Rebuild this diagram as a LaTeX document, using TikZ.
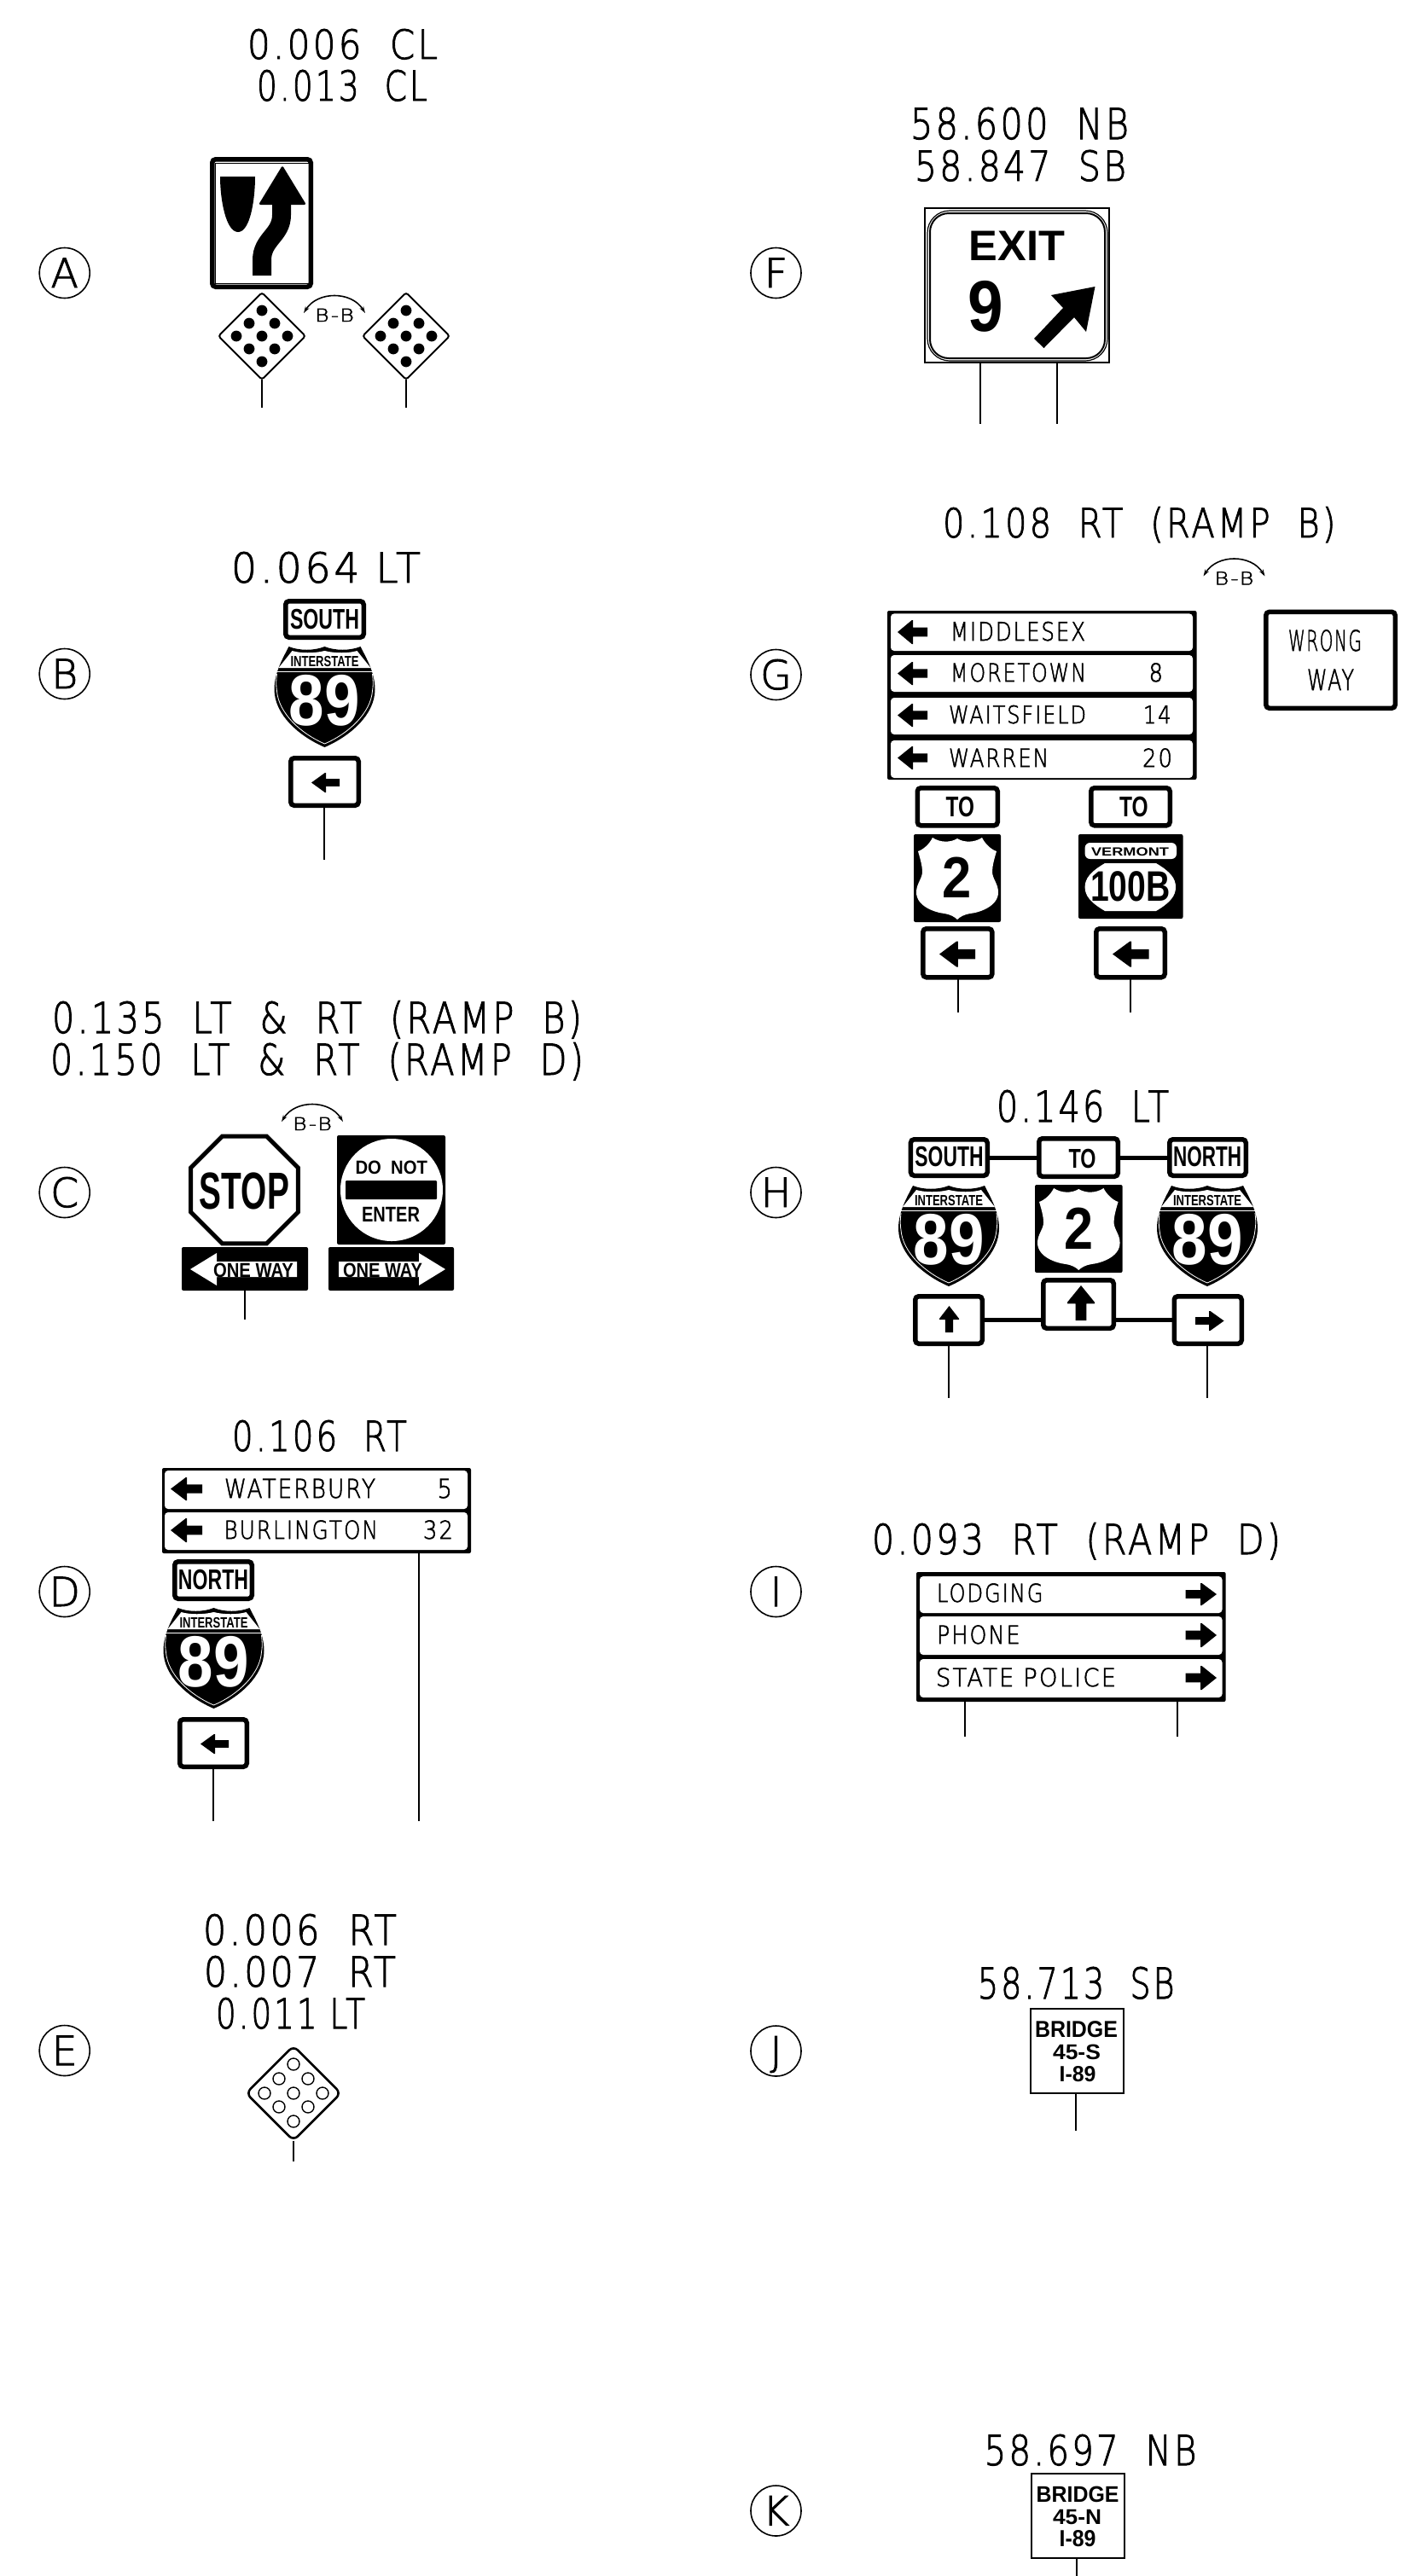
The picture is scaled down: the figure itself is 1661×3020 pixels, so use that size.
\documentclass[tikz,border=0pt]{standalone}
\usepackage{fontspec}
\usepackage{graphicx}
\usetikzlibrary{shapes.geometric,arrows.meta,calc}
\newfontfamily\cad[LetterSpace=8,FakeBold=2]{DejaVu Sans ExtraLight}
\newfontfamily\bfo{Liberation Sans Bold}
\tikzset{
  txt/.style={inner sep=0pt,outer sep=0pt,anchor=center},
  post/.style={line width=1pt,black},
  marker/.style={circle,draw,line width=.8pt,minimum size=29.5pt,inner sep=0pt,outer sep=0pt},
  solid box/.style={fill=black,rounded corners=1pt},
  white panel/.style={fill=white,rounded corners=2pt},
  thin box/.style={draw,line width=1pt},
  sign outline/.style={draw,fill=white,line width=2.75pt,rounded corners=2pt},
  tie/.style={line width=2.5pt},
  bbarc/.style={line width=.8pt,{Stealth[length=4pt,width=2.5pt]}-{Stealth[length=4pt,width=2.5pt]}},
  pattern diamond/.style={diamond,draw,line width=1.3pt,inner sep=0pt,outer sep=0pt,aspect=1,rounded corners=1.5pt}
}
% text fitted to its ink box in pixels
\newcommand\tlab[6]{%
  \pgfmathsetmacro\mw{(#4-#2)*.5}\pgfmathsetmacro\mh{(#5-#3)*.5}%
  \pgfmathsetmacro\mx{(#2+#4)/2}\pgfmathsetmacro\my{(#3+#5)/2}%
  \node[txt] (#1) at (\mx,\my) {\resizebox{\mw pt}{\mh pt}{\raisebox{0pt}[7.2pt][0pt]{#6}}};}
\newcommand\rectn[6][]{%
  \pgfmathsetmacro\mw{(#5-#3)*.5}\pgfmathsetmacro\mh{(#6-#4)*.5}%
  \pgfmathsetmacro\mx{(#3+#5)/2}\pgfmathsetmacro\my{(#4+#6)/2}%
  \node[rectangle,inner sep=0pt,outer sep=0pt,minimum width=\mw pt,minimum height=\mh pt,#1] (#2) at (\mx,\my) {};}
\newcommand\signb[5]{%
  \pgfmathsetmacro\nl{#2+2.75}\pgfmathsetmacro\nt{#3+2.75}\pgfmathsetmacro\nr{#4-2.75}\pgfmathsetmacro\nb{#5-2.75}%
  \rectn[sign outline]{#1}{\nl}{\nt}{\nr}{\nb}}
\newcommand\postl[3]{\coordinate (#1-foot) at (#2,#3); \draw[post] (#1.south -| #1-foot) -- (#1-foot);}
\newcommand\mk[3]{\node[marker] (m#1) at (#2,#3) {\resizebox{!}{17pt}{\raisebox{0pt}[7.2pt][0pt]{\cad #1}}};}
% left-pointing glyph arrow, dir = 1 left, -1 right
\newcommand\harrow[5]{%
  \pgfmathsetmacro\mw{(#3-#2)*#1}\pgfmathsetmacro\mh{#5-#4}%
  \pgfmathsetmacro\mx{(#2+#3)/2}\pgfmathsetmacro\my{(#4+#5)/2}%
  \begin{scope}[shift={(\mx,\my)},xscale=\mw,yscale=\mh]
  \fill (-.5,0) -- (-.02,-.5) -- (.02,-.5) -- (.02,-.19) -- (.5,-.19) -- (.5,.19) -- (.02,.19) -- (.02,.5) -- (-.02,.5) -- cycle;
  \end{scope}}
\newcommand\uarrow[4]{%
  \pgfmathsetmacro\mw{#2-#1}\pgfmathsetmacro\mh{#4-#3}%
  \pgfmathsetmacro\mx{(#1+#2)/2}\pgfmathsetmacro\my{(#3+#4)/2}%
  \begin{scope}[shift={(\mx,\my)},xscale=\mw,yscale=\mh]
  \fill (0,-.5) -- (.5,-.02) -- (.5,.02) -- (.2,.02) -- (.2,.5) -- (-.2,.5) -- (-.2,.02) -- (-.5,.02) -- (-.5,-.02) -- cycle;
  \end{scope}}
% interstate shield: prefix, centre x, top y
\newcommand\ishield[3]{%
  \begin{scope}[shift={(#2,#3)}]
  \fill (-42,0) .. controls (-30,5) and (-12,5) .. (0,0) .. controls (12,5) and (30,5) .. (42,0)
     .. controls (48,12) and (59,30) .. (59,50) .. controls (59,80) and (30,105) .. (0,118)
     .. controls (-30,105) and (-59,80) .. (-59,50) .. controls (-59,30) and (-48,12) .. (-42,0) -- cycle;
  \fill[white] (-38,5) .. controls (-28,8) and (-12,8) .. (0,5) .. controls (12,8) and (28,8) .. (38,5) -- (54,25) -- (-54,25) -- cycle;
  \draw[white,line width=.4pt] (-56,29) -- (56,29);
  \draw[white,line width=.4pt] (56,32) .. controls (57,42) and (57,46) .. (56,52) .. controls (54,78) and (28,102) .. (0,114)
     .. controls (-28,102) and (-54,78) .. (-56,52) .. controls (-57,46) and (-57,42) .. (-56,32);
  \tlab{#1-int}{-40}{11}{40}{23.5}{\bfo INTERSTATE}
  \tlab{#1-num}{-41.5}{31}{41.5}{92}{\color{white}\bfo 89}
  \end{scope}}
% US route shield, white, on its plate: plate name, l,t,r,b
\newcommand\usplate[5]{%
  \rectn[solid box]{#1}{#2}{#3}{#4}{#5}
  \pgfmathsetmacro\mw{(#4-#2)/102}\pgfmathsetmacro\mh{(#5-#3)/103}\pgfmathsetmacro\mx{(#2+#4)/2}%
  \begin{scope}[shift={(\mx,#3)},xscale=\mw,yscale=\mh]
  \fill[white] (-29,4) .. controls (-20,10) and (-8,10) .. (0,5) .. controls (8,10) and (20,10) .. (29,4)
    .. controls (33,12) and (40,18) .. (46,20) .. controls (43,30) and (41,38) .. (41,44) .. controls (41,52) and (48,58) .. (48,68)
    .. controls (48,85) and (25,92) .. (15,93) .. controls (8,94) and (3,97) .. (0,100)
    .. controls (-3,97) and (-8,94) .. (-15,93) .. controls (-25,92) and (-48,85) .. (-48,68) .. controls (-48,58) and (-41,52) .. (-41,44)
    .. controls (-41,38) and (-43,30) .. (-46,20) .. controls (-40,18) and (-33,12) .. (-29,4) -- cycle;
  \end{scope}}
\newcommand\bbs[3]{%
  \pgfmathsetmacro\mta{#3+20}\pgfmathsetmacro\mtb{#3-6}\pgfmathsetmacro\ma{#2-36}\pgfmathsetmacro\mb{#2+36}%
  \pgfmathsetmacro\mc{#2-20}\pgfmathsetmacro\md{#2+20}%
  \draw[bbarc] (\ma,\mta) .. controls (\mc,\mtb) and (\md,\mtb) .. (\mb,\mta);
  \pgfmathsetmacro\nl{#2-23}\pgfmathsetmacro\nr{#2+23}\pgfmathsetmacro\nt{#3+15}\pgfmathsetmacro\nb{#3+30}%
  \tlab{#1}{\nl}{\nt}{\nr}{\nb}{\cad B-B}}
\begin{document}
\begin{tikzpicture}[x=.5pt,y=-.5pt]
\useasboundingbox (0,0) rectangle (1661,3020);
\fill[white] (0,0) rectangle (1661,3020);
% markers
\mk{A}{75.7}{320}\mk{B}{75.7}{790}\mk{C}{75.7}{1398}\mk{D}{75.7}{1866}\mk{E}{75.7}{2404}
\mk{F}{909.5}{320}\mk{G}{909.5}{791}\mk{H}{909.5}{1398}\mk{I}{909.5}{1866}\mk{J}{909.5}{2404.5}\mk{K}{909.5}{2943.5}
% ---- A
\tlab{ta1}{290}{35}{513}{69}{\cad 0.006~~CL}
\tlab{ta2}{301}{83}{501}{118}{\cad 0.013~~CL}
\signb{keep}{246}{184}{367}{339}
\draw[line width=.5pt] (252,191) rectangle (362,332);
\fill (258,207) -- (299,207) .. controls (299,235) and (293,272) .. (279,272) .. controls (265,272) and (258,235) .. (258,207) -- cycle;
\draw[line width=11pt] (330,235) -- (330,252) .. controls (330,276) and (307,280) .. (307,305) -- (307,323);
\fill[rounded corners=1.2pt] (331,194) -- (359,240) -- (303,240) -- cycle;
\foreach \n/\c in {l/307,r/476}{
  \node[pattern diamond,minimum width=51pt,minimum height=51pt,line width=1pt] (dia\n) at (\c,394) {};
  \foreach \dx/\dy in {0/-30,-15/-15,15/-15,-30/0,0/0,30/0,-15/15,15/15,0/30}
    \fill (\c,394) ++(\dx,\dy) circle[radius=3.2pt];
  \postl{dia\n}{\c}{478}
}
\bbs{bba}{392}{347}
% ---- B
\tlab{tb}{271}{648}{493}{683}{\cad 0.064~LT}
\signb{bs}{332}{702}{429}{750}
\tlab{bst}{340}{713}{421}{737}{\bfo SOUTH}
\ishield{bi}{380.5}{758}
\signb{ba}{338}{886}{423}{947}
\harrow{1}{365}{398}{906}{929}
\postl{ba}{380}{1008}
% ---- C
\tlab{tc1}{61}{1175}{682}{1211}{\cad 0.135~~LT~~\&~~RT~~(RAMP~~B)}
\tlab{tc2}{59}{1224}{684}{1260}{\cad 0.150~~LT~~\&~~RT~~(RAMP~~D)}
\bbs{bbc}{366}{1295}
\node[regular polygon,regular polygon sides=8,draw,line width=2.5pt,minimum size=68pt,inner sep=0pt,outer sep=0pt] (stop) at (286.5,1395) {};
\tlab{stopt}{234}{1373}{339}{1417}{\bfo STOP}
\rectn[solid box]{dne}{395}{1331}{522}{1459}
\node[circle,fill=white,minimum size=60pt,inner sep=0pt,outer sep=0pt] (dnec) at (459,1395) {};
\tlab{dne1}{416.5}{1360}{501}{1376}{\bfo DO~~NOT}
\rectn[fill=black,rounded corners=.5pt]{dnebar}{405}{1384}{512}{1406}
\tlab{dne2}{424}{1414}{492}{1432}{\bfo ENTER}
\rectn[solid box]{owl}{213}{1462}{361}{1513}
\fill[white] (223,1488) -- (254,1469) -- (254,1479) -- (348,1479) -- (348,1497) -- (254,1497) -- (254,1507) -- cycle;
\tlab{owlt}{250}{1480}{344}{1497}{\bfo ONE WAY}
\postl{owl}{287}{1547}
\rectn[solid box]{owr}{385}{1462}{532}{1513}
\fill[white] (522,1488) -- (491,1469) -- (491,1479) -- (397,1479) -- (397,1497) -- (491,1497) -- (491,1507) -- cycle;
\tlab{owrt}{402}{1480}{495}{1497}{\bfo ONE WAY}
% ---- D
\tlab{td}{272}{1666}{477}{1701}{\cad 0.106~~RT}
\rectn[solid box]{dsign}{190}{1721}{552}{1821}
\rectn[white panel]{dp1}{193}{1724}{548}{1769}
\rectn[white panel]{dp2}{193}{1773}{548}{1817}
\harrow{1}{200}{237}{1732}{1759}
\harrow{1}{200}{237}{1780}{1808}
\tlab{dw}{263}{1734}{440}{1756}{\cad WATERBURY}
\tlab{d5}{512.5}{1734}{530}{1756}{\cad 5}
\tlab{db}{262.5}{1783}{443}{1804}{\cad BURLINGTON}
\tlab{d32}{496}{1783}{531}{1804}{\cad 32}
\postl{dsign}{491}{2135}
\signb{dn}{202}{1828}{298}{1877}
\tlab{dnt}{209}{1839}{291}{1863}{\bfo NORTH}
\ishield{di}{250.5}{1885}
\signb{da}{208}{2013}{292}{2074}
\harrow{1}{235}{268}{2033}{2056}
\postl{da}{250}{2135}
% ---- E
\tlab{te1}{238}{2245}{465}{2280}{\cad 0.006~~RT}
\tlab{te2}{239}{2294}{464}{2329}{\cad 0.007~~RT}
\tlab{te3}{253}{2343}{428}{2378}{\cad 0.011~LT}
\node[pattern diamond,minimum width=55.5pt,minimum height=55.5pt,rounded corners=3.5pt] (edia) at (344,2454) {};
\foreach \dx/\dy in {0/-34,-17/-17,17/-17,-34/0,0/0,34/0,-17/16,17/16,0/33}
  \draw[line width=.7pt] (344,2454) ++(\dx,\dy) circle[radius=3.5pt];
\postl{edia}{344}{2534}
% ---- F
\tlab{tf1}{1067}{127}{1323}{163}{\cad 58.600~~NB}
\tlab{tf2}{1072}{177}{1320}{212}{\cad 58.847~~SB}
\rectn[thin box]{fsign}{1084}{244}{1300}{425}
\rectn[draw,line width=.6pt,rounded corners=13pt]{fr1}{1087}{247}{1298}{423}
\rectn[draw,line width=1pt,rounded corners=11pt]{fr2}{1090}{250}{1295}{420}
\tlab{fe}{1135.6}{269}{1248}{305}{\bfo EXIT}
\tlab{f9}{1134.5}{327}{1176}{388}{\bfo 9}
\fill (1283.5,336) -- (1232,346) -- (1246,361) -- (1212,397) -- (1223.5,408) -- (1259,372) -- (1273,389) -- cycle;
\postl{fsign}{1148.5}{497}
\coordinate (fpost2) at (1239,497);
\draw[post] (fsign.south -| fpost2) -- (fpost2);
% ---- G
\tlab{tg}{1105}{596}{1565.5}{630}{\cad 0.108~~RT~~(RAMP~~B)}
\bbs{bbg}{1446.5}{655.5}
\rectn[solid box]{gsign}{1040}{716}{1402.5}{914}
\rectn[white panel]{gp1}{1044}{719.4}{1398}{763}
\rectn[white panel]{gp2}{1044}{768}{1398}{811}
\rectn[white panel]{gp3}{1044}{818}{1398}{861}
\rectn[white panel]{gp4}{1044}{868}{1398}{912}
\harrow{1}{1052}{1087}{727}{755}
\harrow{1}{1052}{1087}{776}{803}
\harrow{1}{1052}{1087}{825}{852}
\harrow{1}{1052}{1087}{875}{902}
\tlab{gm}{1114}{729.5}{1272}{751}{\cad MIDDLESEX}
\tlab{gt}{1114}{778}{1273}{799}{\cad MORETOWN}
\tlab{gw}{1112}{827.5}{1273}{848}{\cad WAITSFIELD}
\tlab{gr}{1112}{878}{1229}{899}{\cad WARREN}
\tlab{g8}{1346.6}{778}{1363}{799}{\cad 8}
\tlab{g14}{1340}{827.5}{1372.5}{848}{\cad 14}
\tlab{g20}{1339}{878}{1374}{899}{\cad 20}
\signb{gww}{1481}{714.6}{1638}{833}
\tlab{gw1}{1510}{739}{1596}{763}{\cad WRONG}
\tlab{gw2}{1532}{785}{1587}{809}{\cad WAY}
\signb{gtl}{1072.5}{921}{1172}{970.5}
\tlab{gtlt}{1108.7}{933.6}{1142}{957.7}{\bfo TO}
\signb{gtr}{1276}{921}{1374}{970.5}
\tlab{gtrt}{1312}{933.6}{1345.6}{957.7}{\bfo TO}
\usplate{gus}{1071}{978}{1173}{1081}
\tlab{gus2}{1104.5}{1003}{1138.7}{1052}{\bfo 2}
\rectn[solid box]{gvt}{1264}{978}{1386.5}{1077}
\rectn[fill=white,rounded corners=3pt]{gvb}{1271.6}{988}{1379}{1007}
\tlab{gvbt}{1279}{993}{1370}{1003}{\bfo VERMONT}
\fill[white] (1295,1012) -- (1355,1012) .. controls (1372,1022) and (1378,1030) .. (1378,1040) .. controls (1378,1050) and (1372,1058) .. (1355,1068) -- (1295,1068) .. controls (1278,1058) and (1271.6,1050) .. (1271.6,1040) .. controls (1271.6,1030) and (1278,1022) .. (1295,1012) -- cycle;
\tlab{gv100}{1278}{1020}{1371.5}{1056}{\bfo 100B}
\signb{gal}{1079}{1086}{1165.6}{1148.5}
\harrow{1}{1101}{1143}{1103.5}{1133.6}
\postl{gal}{1122.6}{1187}
\signb{gar}{1282}{1086}{1368}{1148.5}
\harrow{1}{1304}{1346.6}{1103.5}{1133.6}
\postl{gar}{1325}{1187}
% ---- H
\tlab{th}{1168}{1279}{1370}{1315}{\cad 0.146~~LT}
\signb{hs}{1064.7}{1333}{1160}{1381}
\tlab{hst}{1072.4}{1343}{1152.6}{1367}{\bfo SOUTH}
\signb{ht}{1215}{1332}{1313}{1382}
\tlab{htt}{1252.5}{1346}{1284.5}{1369}{\bfo TO}
\signb{hn}{1368}{1333}{1463}{1381}
\tlab{hnt}{1375}{1343}{1455}{1367}{\bfo NORTH}
\draw[tie] (hs.east) -- (ht.west);
\draw[tie] (ht.east) -- (hn.west);
\ishield{hil}{1112}{1390}
\ishield{hir}{1415}{1390}
\usplate{hus}{1213}{1389}{1315.6}{1492}
\tlab{hus2}{1247}{1414}{1281}{1464}{\bfo 2}
\signb{hal}{1070}{1517}{1154}{1578}
\uarrow{1101}{1124}{1531}{1562}
\signb{ham}{1220}{1498}{1308}{1560}
\uarrow{1251}{1283}{1507}{1548}
\signb{har}{1373.5}{1517}{1458}{1578}
\harrow{-1}{1401}{1434.6}{1537}{1560}
\draw[tie] (hal.east) -- (hal.east -| ham.west);
\draw[tie] (har.west) -- (har.west -| ham.east);
\postl{hal}{1112}{1639}
\postl{har}{1415}{1639}
% ---- I
\tlab{ti}{1022}{1787}{1501}{1822}{\cad 0.093~~RT~~(RAMP~~D)}
\rectn[solid box]{isign}{1074}{1843}{1436.6}{1995}
\rectn[white panel]{ip1}{1078}{1848}{1432.5}{1891}
\rectn[white panel]{ip2}{1078}{1895}{1432.5}{1940}
\rectn[white panel]{ip3}{1078}{1945}{1432.5}{1990}
\tlab{il}{1098}{1857}{1222.5}{1878}{\cad LODGING}
\tlab{ip}{1098}{1906}{1195.6}{1927}{\cad PHONE}
\tlab{is}{1097}{1956}{1308}{1977}{\cad STATE POLICE}
\harrow{-1}{1389.6}{1426}{1856}{1882}
\harrow{-1}{1389.6}{1426}{1903}{1931}
\harrow{-1}{1389.6}{1426}{1953}{1981}
\postl{isign}{1131}{2036}
\coordinate (ipost2) at (1380,2036);
\draw[post] (isign.south -| ipost2) -- (ipost2);
% ---- J
\tlab{tj}{1146}{2307}{1376.6}{2343}{\cad 58.713~~SB}
\rectn[thin box]{jsign}{1207.5}{2355}{1317}{2454}
\tlab{j1}{1213}{2369}{1310}{2388.5}{\bfo BRIDGE}
\tlab{j2}{1234}{2396}{1290}{2414}{\bfo 45-S}
\tlab{j3}{1241.6}{2421.4}{1284.5}{2440}{\bfo I-89}
\postl{jsign}{1261}{2497.5}
% ---- K
\tlab{tk}{1153.7}{2855}{1402.5}{2890}{\cad 58.697~~NB}
\rectn[thin box]{ksign}{1208.5}{2900}{1318}{2999}
\tlab{k1}{1214.7}{2914}{1311.5}{2933}{\bfo BRIDGE}
\tlab{k2}{1234}{2941}{1291}{2959}{\bfo 45-N}
\tlab{k3}{1241.6}{2966}{1284.5}{2985.6}{\bfo I-89}
\postl{ksign}{1262}{3020}
\end{tikzpicture}
\end{document}
